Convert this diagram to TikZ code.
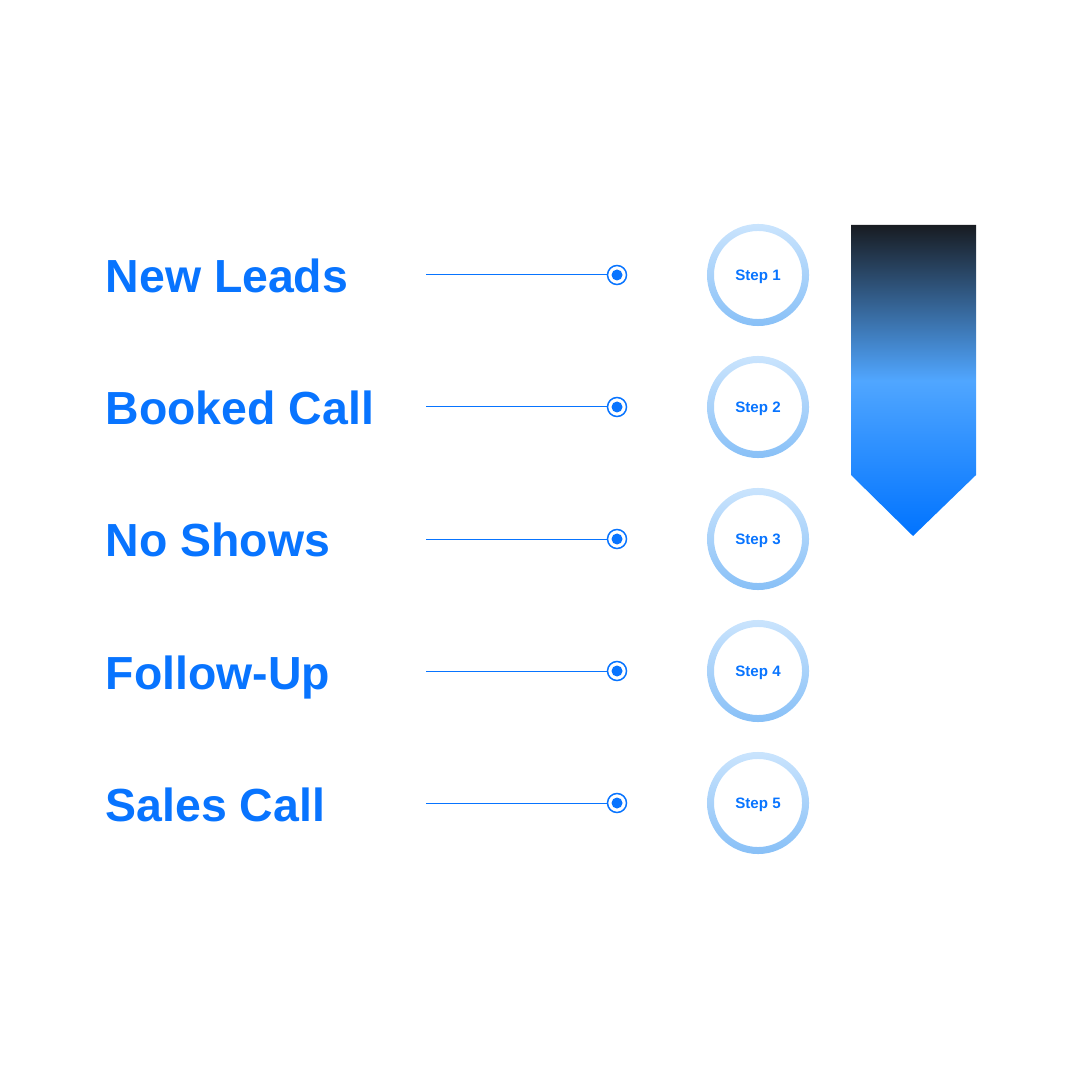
\documentclass[tikz,border=0pt]{standalone}
\usepackage{fontspec}
\setmainfont{Liberation Sans}
\usepackage{tikz}
\usetikzlibrary{shapes,%
                arrows}

\definecolor{leadblue}{RGB}{8,116,255}
\definecolor{ringtop}{RGB}{202,228,253}
\definecolor{ringbot}{RGB}{136,192,247}
\definecolor{arrowtop}{RGB}{24,28,34}
\definecolor{arrowmid}{RGB}{80,166,255}
\definecolor{arrowbot}{RGB}{0,115,255}

\begin{document}
\begin{tikzpicture}[x=0.01cm,y=-0.01cm]
  \tikzstyle{titre}=[anchor=base west, inner sep=0, text=leadblue, font=\fontsize{13.2}{16}\selectfont\bfseries]
  \tikzstyle{fil}=[draw=leadblue, line width=0.01cm]
  \tikzstyle{point}=[circle, draw=leadblue, line width=0.015cm, fill=white, minimum size=0.19cm, inner sep=0,
    path picture={\fill[leadblue] (path picture bounding box.center) circle (0.055cm);}]
  \tikzstyle{etape}=[circle, minimum size=1cm, inner sep=0, text depth=0pt, text=leadblue, font=\fontsize{4.3}{5}\selectfont\bfseries]
  \tikzstyle{anneau}=[top color=ringtop, bottom color=ringbot, even odd rule]
  \useasboundingbox (0,0) rectangle (1080,1080);
  % rows
  \node[titre] (t1) at (105,293) {New Leads};
  \coordinate (c1) at (426,275);
  \node[point] (p1) at (617,275) {}
    edge [fil] (c1);
  \node[etape] (s1) at (758,275) {Step 1};
  \node[titre] (t2) at (105,425) {Booked Call};
  \coordinate (c2) at (426,407);
  \node[point] (p2) at (617,407) {}
    edge [fil] (c2);
  \node[etape] (s2) at (758,407) {Step 2};
  \node[titre] (t3) at (105,557) {No Shows};
  \coordinate (c3) at (426,539);
  \node[point] (p3) at (617,539) {}
    edge [fil] (c3);
  \node[etape] (s3) at (758,539) {Step 3};
  \node[titre] (t4) at (105,689) {Follow-Up};
  \coordinate (c4) at (426,671);
  \node[point] (p4) at (617,671) {}
    edge [fil] (c4);
  \node[etape] (s4) at (758,671) {Step 4};
  \node[titre] (t5) at (105,821) {Sales Call};
  \coordinate (c5) at (426,803);
  \node[point] (p5) at (617,803) {}
    edge [fil] (c5);
  \node[etape] (s5) at (758,803) {Step 5};
  % rings
  \shade[anneau] (s1.center) circle (0.51cm) circle (0.44cm);
  \shade[anneau] (s2.center) circle (0.51cm) circle (0.44cm);
  \shade[anneau] (s3.center) circle (0.51cm) circle (0.44cm);
  \shade[anneau] (s4.center) circle (0.51cm) circle (0.44cm);
  \shade[anneau] (s5.center) circle (0.51cm) circle (0.44cm);
  % arrow
  \shade[top color=arrowtop, bottom color=arrowbot, middle color=arrowmid]
    (851,225) -- (976,225) -- (976,475) -- (913,536) -- (851,475) -- cycle;
\end{tikzpicture}
\end{document}
